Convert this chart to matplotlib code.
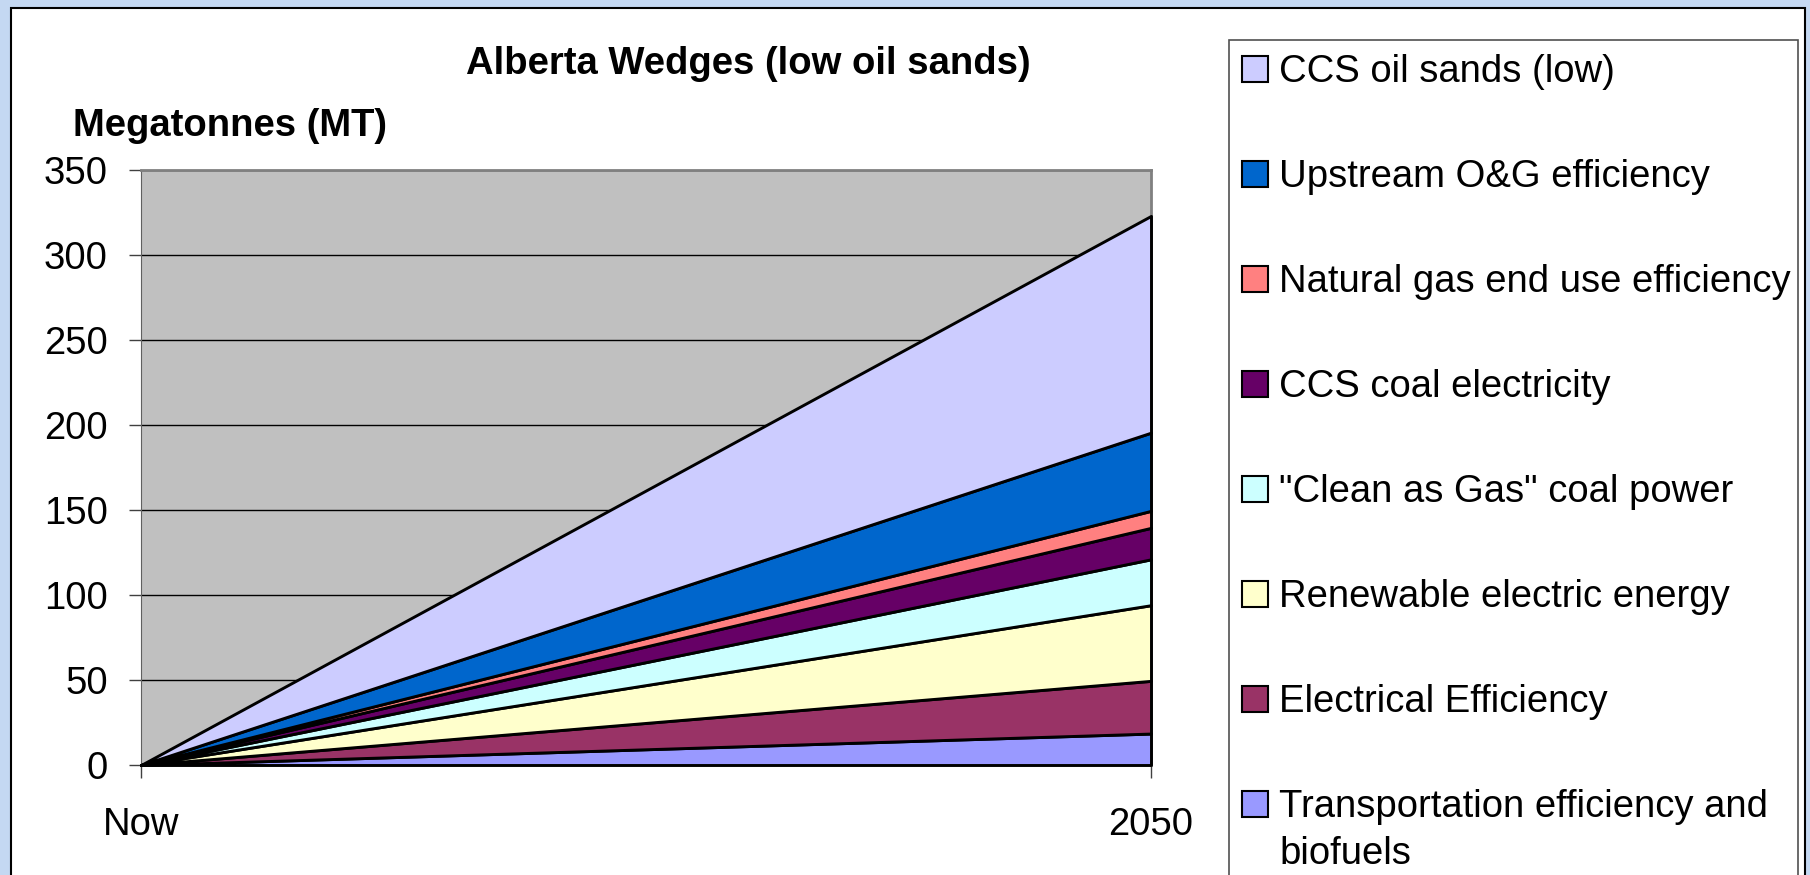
import matplotlib

matplotlib.use("Agg")
import matplotlib.pyplot as plt
from matplotlib.patches import Rectangle

plt.rcParams["font.family"] = ["Liberation Sans", "DejaVu Sans"]

# data (MT at 2050, each wedge starts at 0 "Now")
periods = ["Now", "2050"]
wedges = [
    "Transportation efficiency and\nbiofuels",
    "Electrical Efficiency",
    "Renewable electric energy",
    "\"Clean as Gas\" coal power",
    "CCS coal electricity",
    "Natural gas end use efficiency",
    "Upstream O&G efficiency",
    "CCS oil sands (low)",
]
now_vals = [0, 0, 0, 0, 0, 0, 0, 0]
vals_2050 = [18.5, 31, 44.5, 27, 18.5, 10, 46, 127.5]
colors = ["#9999FF", "#993366", "#FFFFCC", "#CCFFFF",
          "#660066", "#FF8080", "#0066CC", "#CCCCFF"]
yticks = [0, 50, 100, 150, 200, 250, 300, 350]

W, H = 1810, 875
FS = 27.5


def fx(px):
    return px / W


def fy(py):
    return 1 - py / H


fig = plt.figure(figsize=(W / 100, H / 100), dpi=100)
fig.patch.set_facecolor("#C4D8F2")

# white slide panel
fig.add_artist(Rectangle((fx(11), -0.05), fx(1805 - 11), fy(8) + 0.05,
                         transform=fig.transFigure, facecolor="white",
                         edgecolor="black", lw=1.5, zorder=0))

ax = fig.add_axes([fx(141), fy(765), fx(1151 - 141), (765 - 170) / H])
ax.set_facecolor("#C0C0C0")

x = list(range(len(periods)))
series = [[a, b] for a, b in zip(now_vals, vals_2050)]
polys = ax.stackplot(x, *series, colors=colors, edgecolor="black",
                     linewidth=2.1, zorder=3)
for p in polys:
    p.set_clip_on(False)

ax.set_xlim(0, 1)
ax.set_ylim(0, 350)
ax.set_yticks(yticks)
ax.set_yticklabels([str(v) for v in yticks], fontsize=FS)
ax.set_xticks(x)
ax.set_xticklabels(periods, fontsize=FS)
ax.tick_params(axis="y", length=9, width=1, color="#404040", pad=15)
ax.tick_params(axis="x", length=9, width=1, color="#404040", pad=21)
ax.yaxis.grid(True, color="black", lw=1)
ax.set_axisbelow(True)
for s in ["top", "right"]:
    ax.spines[s].set_color("#808080")
    ax.spines[s].set_linewidth(2)
ax.spines["left"].set_color("#606060")
ax.spines["bottom"].set_color("#606060")

fig.text(fx(748), fy(64), "Alberta Wedges (low oil sands)", fontsize=FS,
         fontweight="bold", ha="center", va="center")
fig.text(fx(73), fy(126), "Megatonnes (MT)", fontsize=FS,
         fontweight="bold", ha="left", va="center")

# legend box, top entry first
fig.add_artist(Rectangle((fx(1229), -0.05), fx(1798 - 1229), fy(40) + 0.05,
                         transform=fig.transFigure, facecolor="white",
                         edgecolor="#505050", lw=1.2, zorder=1))
for i, (lab, col) in enumerate(zip(wedges[::-1], colors[::-1])):
    yc = 69 + 105 * i
    fig.add_artist(Rectangle((fx(1242), fy(yc + 13)), fx(26), 26 / H,
                             transform=fig.transFigure, facecolor=col,
                             edgecolor="black", lw=1.5, zorder=2))
    for k, line in enumerate(lab.split("\n")):
        fig.text(fx(1279), fy(yc + 13 + 47 * k), line, fontsize=FS,
                 ha="left", va="baseline", zorder=3)

fig.savefig("out.png", dpi=100, facecolor=fig.get_facecolor())
